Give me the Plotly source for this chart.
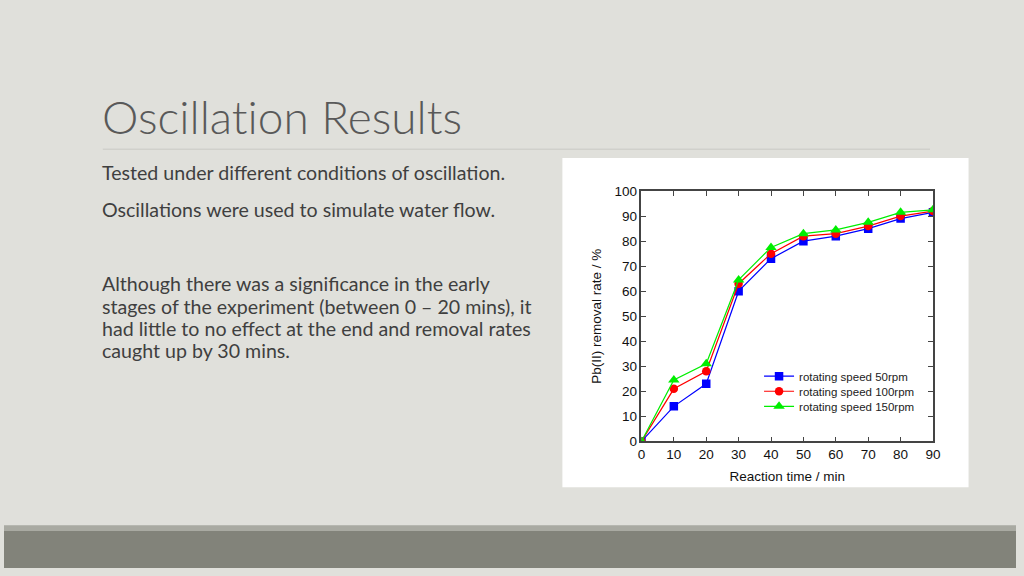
import plotly.graph_objects as go

# removal rate vs reaction time
time_min = [0, 10, 20, 30, 40, 50, 60, 70, 80, 90]
rpm50 = [0, 14, 23, 60, 73, 80, 82, 85, 89, 91.5]
rpm100 = [0, 21, 28, 63, 75, 82, 83, 86, 90, 92]
rpm150 = [0, 24.5, 31, 64.5, 77.5, 83, 84.5, 87.5, 91.5, 92.5]
series_names = ["rotating speed 50rpm", "rotating speed 100rpm", "rotating speed 150rpm"]
y_ticks = [0, 10, 20, 30, 40, 50, 60, 70, 80, 90, 100]

title_text = "Oscillat\u200cion Results"
bullets = ["Tested under different conditions of oscillation.",
           "Oscillations were used to simulate water flow."]
para_lines = ["Although there was a significance in the early",
              "stages of the experiment (between 0 \u2013 20 mins), it",
              "had little to no effect at the end and removal rates",
              "caught up by 30 mins."]

W, H = 1024, 576
def px(x):
    return x / W
def py(y):
    return 1 - y / H

fig = go.Figure()
styles = [("#0000ff", "square", 8.5), ("#ff0000", "circle", 8.5), ("#00ee00", "triangle-up", 10)]
legend_ids = ["legend", "legend2", "legend3"]
for name, vals, (col, sym, sz), lg in zip(series_names, [rpm50, rpm100, rpm150], styles, legend_ids):
    fig.add_trace(go.Scatter(x=time_min, y=vals, name=name, mode="lines+markers", legend=lg,
                             showlegend=True,
                             line=dict(color=col, width=1.2),
                             marker=dict(color=col, symbol=sym, size=sz)))

axis_font = dict(family="Liberation Sans, Arial", size=13.5, color="#111")
fig.update_xaxes(domain=[px(645), px(940)], range=[0, 90], tickvals=time_min,
                 ticks="inside", ticklen=5, mirror="ticks", showline=True, linecolor="#444",
                 linewidth=1.5, showgrid=False, zeroline=False, tickfont=axis_font,
                 title=dict(text="Reaction time / min", font=axis_font, standoff=10))
fig.update_yaxes(domain=[py(446), py(189)], range=[0, 100], tickvals=y_ticks,
                 ticks="inside", ticklen=5, mirror="ticks", showline=True, linecolor="#444",
                 linewidth=1.5, showgrid=False, zeroline=False, tickfont=axis_font,
                 title=dict(text="Pb(II) removal rate / %", font=axis_font, standoff=10))

shapes = [
    # white picture box
    dict(type="rect", xref="paper", yref="paper", x0=px(565), x1=px(976), y0=py(493), y1=py(155),
         fillcolor="white", line=dict(width=0), layer="below"),
    # title rule
    dict(type="line", xref="paper", yref="paper", x0=px(100), x1=px(937), y0=py(146), y1=py(146),
         line=dict(color="#c8c8c4", width=1)),
    # bottom bands
    dict(type="rect", xref="paper", yref="paper", x0=0, x1=1, y0=py(538), y1=py(532),
         fillcolor="#a9aaa2", line=dict(width=0)),
    dict(type="rect", xref="paper", yref="paper", x0=0, x1=1, y0=0, y1=py(538),
         fillcolor="#82837a", line=dict(width=0)),
]

body_font = dict(family="Lato", size=19.6, color="#3f3f3f")
annotations = [dict(text=title_text, x=px(97), y=py(112),
                    font=dict(family="Lato", size=46, color="#595959", weight=300))]
for txt, yy in zip(bullets, [170, 208]):
    annotations.append(dict(text=txt, x=px(97), y=py(yy), font=body_font))
for txt, yy in zip(para_lines, [284, 307, 330, 353]):
    annotations.append(dict(text=txt, x=px(97), y=py(yy), font=body_font))
for a in annotations:
    a.update(xref="paper", yref="paper", xanchor="left", yanchor="middle", showarrow=False, align="left")

leg_font = dict(family="Liberation Sans, Arial", size=11.5, color="#222")
legends = {}
for lg, ycen in zip(legend_ids, [379, 394.5, 410]):
    legends[lg] = dict(x=px(764), y=py(ycen), xanchor="left", yanchor="middle",
                       bgcolor="rgba(0,0,0,0)", font=leg_font, itemwidth=30)

fig.update_layout(
    width=W, height=H, margin=dict(l=0, r=0, t=0, b=0),
    paper_bgcolor="#e0e0db", plot_bgcolor="white",
    shapes=shapes, annotations=annotations, **legends,
)

page_fix = ("for (const el of [document.documentElement, document.body]) {"
            "el.style.margin='0'; el.style.padding='0'; el.style.width='1024px';"
            "el.style.height='576px'; el.style.overflow='hidden'; }")
fig.write_html("out.html", config={"displayModeBar": False},
               default_width="1024px", default_height="576px", post_script=page_fix)
